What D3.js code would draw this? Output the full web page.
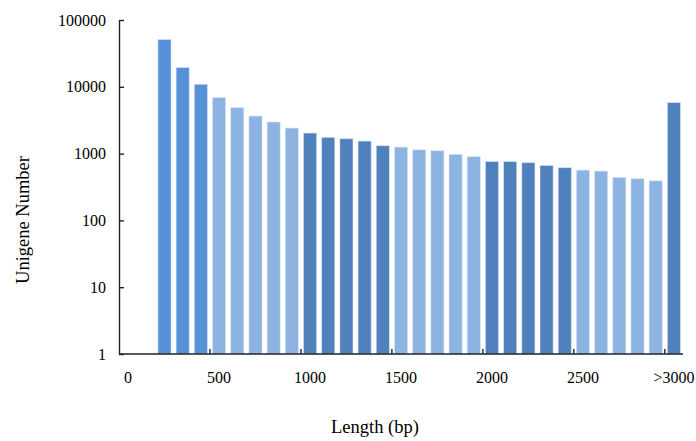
<!DOCTYPE html>
<html>
<head>
<meta charset="utf-8">
<script src="https://cdn.jsdelivr.net/npm/d3@7"></script>
<style>
  body { margin: 0; background: #fff; }
  svg text { font-family: "Liberation Serif", "Times New Roman", serif; fill: #000; }
</style>
</head>
<body>
<div id="chart"></div>
<script>
// unigene length distribution
const lengths = ["0", "100", "200", "300", "400", "500", "600", "700", "800", "900",
  "1000", "1100", "1200", "1300", "1400", "1500", "1600", "1700", "1800", "1900",
  "2000", "2100", "2200", "2300", "2400", "2500", "2600", "2700", "2800", "2900", ">3000"];
const counts = [null, null, 51000, 19400, 10900, 6890, 4880, 3650, 2970, 2410,
  2030, 1750, 1670, 1540, 1310, 1250, 1140, 1105, 973, 899,
  760, 760, 731, 665, 615, 566, 547, 440, 421, 392, 5800];
const labelledLengths = ["0", "500", "1000", "1500", "2000", "2500", ">3000"];
const yTicks = [1, 10, 100, 1000, 10000, 100000];

const width = 696, height = 441;
const margin = { top: 20, right: 13, bottom: 87, left: 119 };

const svg = d3.select('#chart').append('svg')
  .attr('width', width)
  .attr('height', height);

const x = d3.scaleBand()
  .domain(lengths)
  .range([margin.left, width - margin.right])
  .paddingInner(0.28)
  .paddingOuter(0.14);

const y = d3.scaleLog()
  .domain([1, 100000])
  .range([height - margin.bottom, margin.top]);

// colour goes in blocks of five categories
function barColor(i) {
  const g = Math.floor(i / 5);
  if (g === 0) return '#5590d8';
  return g % 2 === 1 ? '#8db3e2' : '#4f81bd';
}

const bars = lengths.map((l, i) => ({ len: l, n: counts[i], i: i })).filter(d => d.n != null);

svg.append('g')
  .selectAll('rect')
  .data(bars)
  .enter()
  .append('rect')
  .attr('x', d => x(d.len))
  .attr('width', x.bandwidth())
  .attr('y', d => y(d.n))
  .attr('height', d => y(1) - y(d.n))
  .attr('fill', d => barColor(d.i))
  .attr('stroke', '#dce6f2')
  .attr('stroke-opacity', 0.7)
  .attr('stroke-width', 0.8);

// y axis, ticks pointing inward
const yAxis = svg.append('g')
  .attr('transform', `translate(${margin.left},0)`)
  .call(d3.axisLeft(y).tickValues(yTicks).tickFormat(d3.format('d'))
    .tickSizeInner(-5).tickSizeOuter(0).tickPadding(13));
yAxis.select('.domain').attr('stroke', '#222').attr('stroke-width', 1.4);
yAxis.selectAll('.tick line').attr('stroke', '#222').attr('stroke-width', 1.4);
yAxis.selectAll('text').attr('font-size', 16).attr('font-family', '"Liberation Serif", serif');

// x axis: labels on every fifth category, tick marks on the boundaries
const xAxis = svg.append('g')
  .attr('transform', `translate(0,${y(1)})`)
  .call(d3.axisBottom(x).tickValues(labelledLengths).tickSize(0).tickPadding(18));
xAxis.select('.domain').attr('d', `M${margin.left},0H${width - margin.right}`)
  .attr('stroke', '#222').attr('stroke-width', 1.4);
xAxis.selectAll('text').attr('font-size', 16).attr('font-family', '"Liberation Serif", serif');

const half = x.step() * x.paddingInner() / 2;
xAxis.selectAll('.bound')
  .data(labelledLengths.slice(1))
  .enter()
  .append('line')
  .attr('class', 'bound')
  .attr('x1', d => x(d) - half)
  .attr('x2', d => x(d) - half)
  .attr('y1', 0)
  .attr('y2', -5)
  .attr('stroke', '#222')
  .attr('stroke-width', 1.4);

svg.append('text')
  .attr('transform', 'translate(29,220) rotate(-90)')
  .attr('text-anchor', 'middle')
  .attr('font-size', 18.5)
  .text('Unigene Number');

svg.append('text')
  .attr('x', 375)
  .attr('y', 433)
  .attr('text-anchor', 'middle')
  .attr('font-size', 18.5)
  .text('Length (bp)');
</script>
</body>
</html>
